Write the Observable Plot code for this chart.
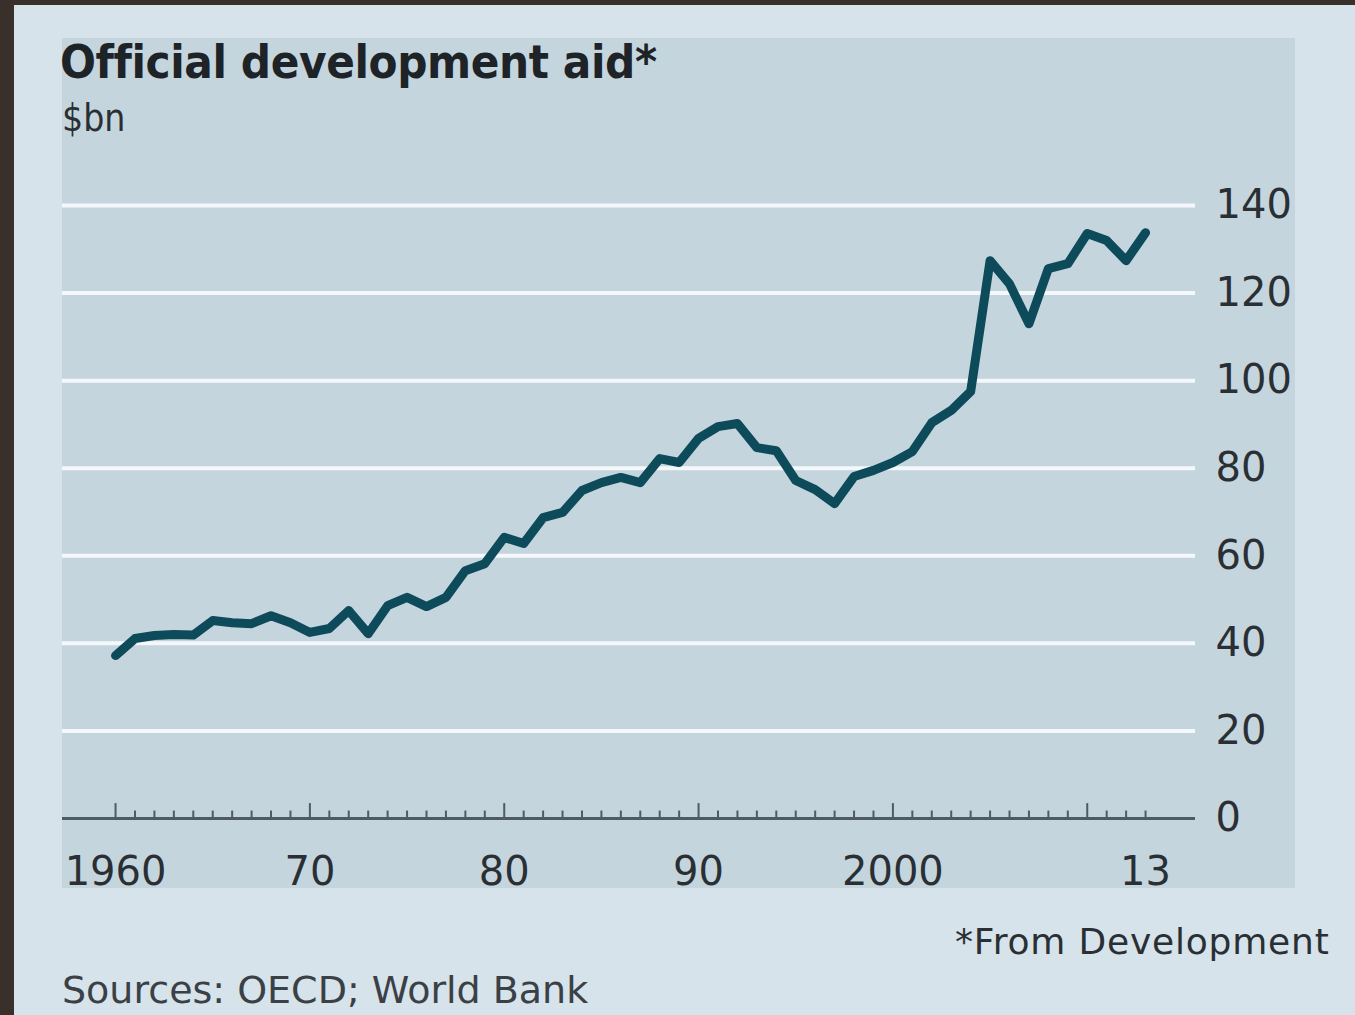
<!DOCTYPE html>
<html><head><meta charset="utf-8">
<script src="https://cdn.jsdelivr.net/npm/d3@7"></script>
<script src="https://cdn.jsdelivr.net/npm/@observablehq/plot@0.6"></script>
<style>
html,body{margin:0;padding:0;width:1355px;height:1015px;overflow:hidden;background:#d6e3ea;font-family:"DejaVu Sans Condensed","DejaVu Sans",sans-serif;}
#frameL{position:absolute;left:0;top:0;width:14px;height:1015px;background:#3a302b;}
#frameT{position:absolute;left:0;top:0;width:1355px;height:5px;background:#3a302b;}
#panel{position:absolute;left:62px;top:38px;width:1233px;height:850px;background:#c5d5de;}
#title{position:absolute;left:60px;top:38px;font-size:47px;font-weight:bold;color:#1d2327;white-space:nowrap;line-height:1;letter-spacing:-0.4px;}
#sub{position:absolute;left:62px;top:100px;font-size:37px;color:#2a2f33;line-height:1;}
#chart{position:absolute;left:0;top:150px;}
#note{position:absolute;left:955px;top:924px;font-size:36px;letter-spacing:0.8px;color:#2a2f33;white-space:nowrap;line-height:1;font-family:"DejaVu Sans",sans-serif;}
#src{position:absolute;left:62px;top:971px;font-size:38px;color:#3a4046;white-space:nowrap;line-height:1;font-family:"DejaVu Sans",sans-serif;}
</style></head>
<body>
<div id="frameL"></div><div id="frameT"></div>
<div id="panel"></div>
<div id="title">Official development aid*</div>
<div id="sub">$bn</div>
<div id="chart"></div>
<div id="note">*From Development</div>
<div id="src">Sources: OECD; World Bank</div>
<script>
const years = [1960,1961,1962,1963,1964,1965,1966,1967,1968,1969,
  1970,1971,1972,1973,1974,1975,1976,1977,1978,1979,
  1980,1981,1982,1983,1984,1985,1986,1987,1988,1989,
  1990,1991,1992,1993,1994,1995,1996,1997,1998,1999,
  2000,2001,2002,2003,2004,2005,2006,2007,2008,2009,
  2010,2011,2012,2013];
const aid = [37.2,41.1,41.8,42.0,41.9,45.2,44.7,44.5,46.3,44.7,
  42.5,43.4,47.5,42.2,48.6,50.5,48.4,50.5,56.6,58.2,
  64.2,62.8,68.7,69.9,74.9,76.7,77.9,76.7,82.2,81.3,
  86.8,89.5,90.2,84.7,84.0,77.2,75.1,71.9,78.1,79.5,
  81.3,83.8,90.4,93.2,97.5,127.4,122.1,113.0,125.6,126.7,
  133.6,132.0,127.4,133.8];
const yTicks = [0,20,40,60,80,100,120,140];
const gridValues = [20,40,60,80,100,120,140];
const xTickYears = [1960,1970,1980,1990,2000,2013];
const xTickLabels = ["1960","70","80","90","2000","13"];
const xDomain = [1957.27,2015.57];

const data = years.map((year,i)=>({year, value: aid[i]}));
const labelOf = new Map(xTickYears.map((y,i)=>[y,xTickLabels[i]]));
const font = "'DejaVu Sans','DejaVu Sans Condensed',sans-serif";

const chart = Plot.plot({
  width:1355, height:750,
  marginLeft:62, marginRight:160, marginTop:55, marginBottom:82,
  x:{domain:xDomain, axis:null, label:null},
  y:{domain:[0,140], axis:null, label:null},
  style:{background:"transparent", fontFamily:font, overflow:"visible"},
  marks:[
    Plot.ruleY(gridValues,{stroke:"#f4f8fa", strokeWidth:4}),
    Plot.ruleX(years,{x:d=>d, y1:0, y2:d=>d%10===0?3.4:1.7, stroke:"#4f5b62", strokeWidth:2}),
    Plot.ruleY([0],{stroke:"#4f5b62", strokeWidth:3}),
    Plot.line(data,{x:"year", y:"value", stroke:"#0d4b5b", strokeWidth:9, strokeLinejoin:"round", strokeLinecap:"round"}),
    Plot.axisY(yTicks,{anchor:"right", label:null, tickSize:0, tickPadding:20, fontSize:40, fill:"#2a2f33", fontFamily:font}),
    Plot.axisX(xTickYears,{anchor:"bottom", label:null, tickSize:0, tickPadding:38, fontSize:40, fill:"#2a2f33", fontFamily:font, tickFormat:d=>labelOf.get(d)})
  ]
});
document.getElementById("chart").appendChild(chart);
</script>
</body></html>
